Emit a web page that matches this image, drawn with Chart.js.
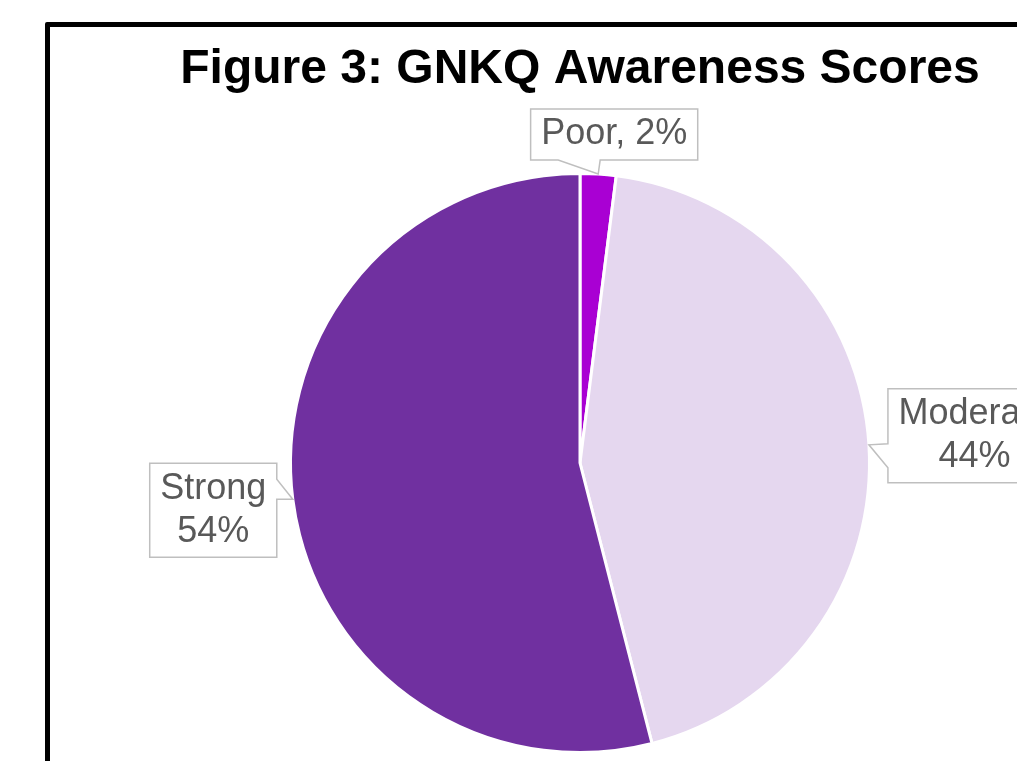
<!DOCTYPE html>
<html><head><meta charset="utf-8">
<script src="https://cdn.jsdelivr.net/npm/chart.js@4"></script>
<style>
html,body{margin:0;padding:0;background:#fff;overflow:hidden;width:1017px;height:761px}
#frame{position:absolute;left:45px;top:22px;width:1100px;height:900px;border:5px solid #000;border-radius:2px;box-sizing:border-box}
#wrap{position:absolute;left:0;top:0;width:1160px;height:761px}
</style></head><body>
<div id="frame"></div>
<div id="wrap"><canvas id="c" width="1160" height="761"></canvas></div>
<script>
const chartTitle = 'Figure 3: GNKQ Awareness Scores';
const categories = ['Poor', 'Moderate', 'Strong'];
const percentages = [2, 44, 54];
const sliceColors = ['#A900D3', '#E5D7EF', '#7030A0'];

const FONT = 'Arial, "Liberation Sans", sans-serif';

// callout placement relative to the slice's outer mid-point
const calloutLayout = [
  {side: 'bottom', dx: 16, gap: 14, base: [-40, 2]},
  {side: 'left', gap: 19, dy: -9, base: [-1, 23]},
  {side: 'right', gap: 16, dy: 11, base: [-20, 0]}
];

const calloutPlugin = {
  id: 'callouts',
  afterDatasetsDraw(chart) {
    const ctx = chart.ctx;
    const meta = chart.getDatasetMeta(0);
    ctx.save();
    ctx.font = '36px ' + FONT;
    const LH = 43, PADX = 10.5;
    meta.data.forEach((arc, i) => {
      const p = arc.getProps(['x', 'y', 'startAngle', 'endAngle', 'outerRadius'], true);
      const mid = (p.startAngle + p.endAngle) / 2;
      const tx = p.x + Math.cos(mid) * p.outerRadius;
      const ty = p.y + Math.sin(mid) * p.outerRadius;
      const single = categories[i] + ', ' + percentages[i] + '%';
      const lines = ctx.measureText(single).width <= 160 ? [single] : [categories[i], percentages[i] + '%'];
      const w = Math.max(...lines.map(l => ctx.measureText(l).width)) + 2 * PADX;
      const h = lines.length * LH + 8;
      const L = calloutLayout[i];
      let bx, by;
      if (L.side === 'bottom') { bx = tx + L.dx - w / 2; by = ty - L.gap - h; }
      else if (L.side === 'left') { bx = tx + L.gap; by = ty + L.dy - h / 2; }
      else { bx = tx - L.gap - w; by = ty + L.dy - h / 2; }
      ctx.beginPath();
      ctx.moveTo(bx, by);
      ctx.lineTo(bx + w, by);
      if (L.side === 'right') {
        ctx.lineTo(bx + w, ty + L.base[0]);
        ctx.lineTo(tx, ty);
        ctx.lineTo(bx + w, ty + L.base[1]);
      }
      ctx.lineTo(bx + w, by + h);
      if (L.side === 'bottom') {
        ctx.lineTo(tx + L.base[1], by + h);
        ctx.lineTo(tx, ty);
        ctx.lineTo(tx + L.base[0], by + h);
      }
      ctx.lineTo(bx, by + h);
      if (L.side === 'left') {
        ctx.lineTo(bx, ty + L.base[1]);
        ctx.lineTo(tx, ty);
        ctx.lineTo(bx, ty + L.base[0]);
      }
      ctx.closePath();
      ctx.fillStyle = '#ffffff';
      ctx.fill();
      ctx.strokeStyle = '#BFBFBF';
      ctx.lineWidth = 1.5;
      ctx.lineJoin = 'miter';
      ctx.stroke();
      ctx.fillStyle = '#595959';
      ctx.textAlign = 'center';
      ctx.textBaseline = 'middle';
      const cy = by + h / 2;
      lines.forEach((l, j) => {
        ctx.fillText(l, bx + w / 2, cy + (j - (lines.length - 1) / 2) * LH);
      });
    });
    ctx.restore();
  }
};

new Chart(document.getElementById('c'), {
  type: 'pie',
  data: {
    labels: categories,
    datasets: [{
      data: percentages,
      backgroundColor: sliceColors,
      borderColor: '#ffffff',
      borderWidth: 3,
      hoverOffset: 0
    }]
  },
  options: {
    responsive: false,
    animation: false,
    events: [],
    layout: {padding: {left: 0, right: 0, top: 0, bottom: 7}},
    plugins: {
      legend: {display: false},
      tooltip: {enabled: false},
      title: {
        display: true,
        text: chartTitle,
        color: '#000000',
        font: {family: FONT, size: 48, weight: 'bold'},
        padding: {top: 41, bottom: 73.4}
      }
    }
  },
  plugins: [calloutPlugin]
});
</script>
</body></html>
